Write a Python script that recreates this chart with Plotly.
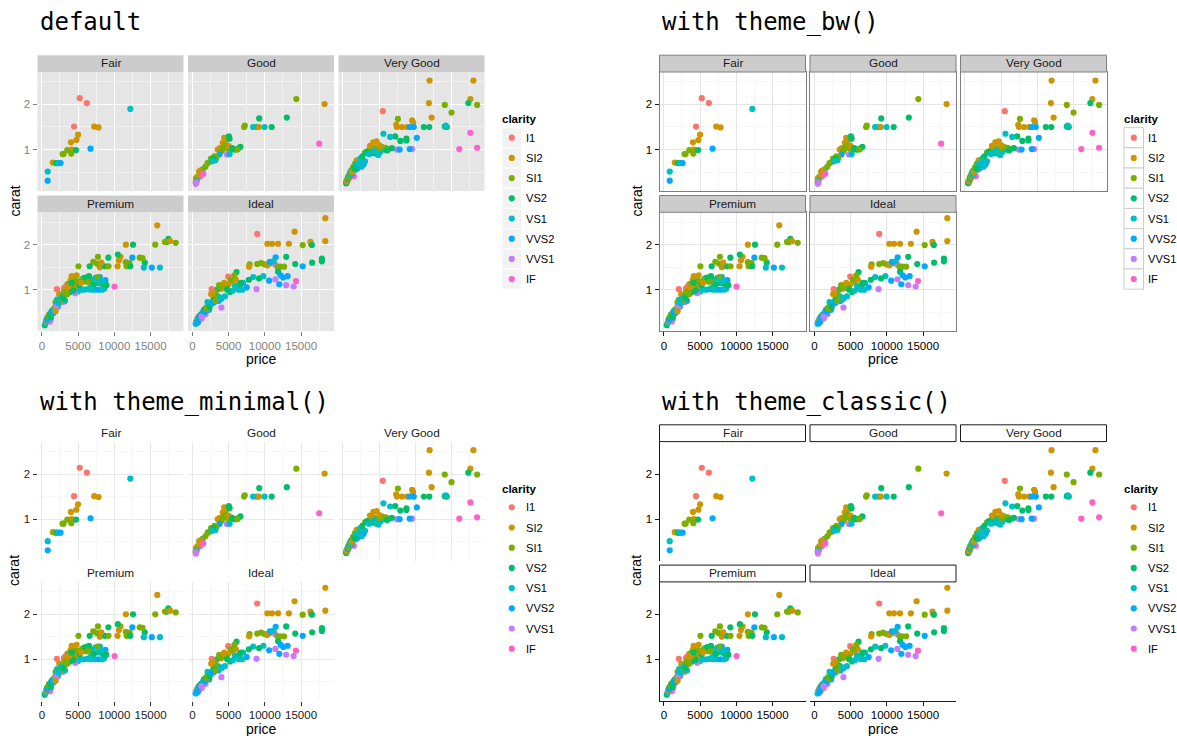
import plotly.graph_objects as go

W, H = 1177, 736

# ---------------- data ----------------
CLARITY_LEVELS = ["I1", "SI2", "SI1", "VS2", "VS1", "VVS2", "VVS1", "IF"]
CLARITY_COLORS = ["#F8766D", "#CD9600", "#7CAE00", "#00BE67", "#00BFC4", "#00A9FF", "#C77CFF", "#FF61CC"]
FACETS = ["Fair", "Good", "Very Good", "Premium", "Ideal"]

X_TICKS = [0, 5000, 10000, 15000]
X_TICK_LABELS = ["0", "5000", "10000", "15000"]
X_MINOR = [2500, 7500, 12500, 17500]
Y_TICKS = [1, 2]
Y_TICK_LABELS = ["1", "2"]
Y_MINOR = [0.5, 1.5, 2.5]

FAIR_PRICE = [5230, 6210, 4440, 7230, 7830, 5000, 4770, 4020, 4120, 3510,
              2860, 3000, 4070, 4720, 6720, 12210, 1510, 1880, 2050, 2250,
              2580, 810, 810]
FAIR_CARAT = [2.14, 2.03, 1.51, 1.51, 1.49, 1.33, 1.21, 1.16, 1.00, 0.99,
              0.90, 0.90, 0.91, 0.99, 1.02, 1.90, 0.71, 0.70, 0.70, 0.70,
              0.70, 0.51, 0.31]
FAIR_CLARITY = ["I1", "I1", "I1", "SI2", "SI2", "SI2", "SI2", "SI2", "SI2", "SI1",
                "SI1", "SI1", "SI1", "VS2", "VVS2", "VS1", "SI2", "SI1", "VS2", "VS1",
                "VVS2", "VS1", "VVS2"]

GOOD_PRICE = [14350, 18250, 9230, 13040, 7140, 7230, 8390, 8860, 9180, 9970,
              10950, 17510, 4400, 4670, 4200, 4550, 5040, 5140, 3510, 3800,
              4120, 4300, 3950, 5370, 5840, 6300, 6630, 3740, 4770, 5140,
              3050, 3300, 2580, 2250, 2100, 3190, 2900, 1420, 950, 1100,
              1510, 1050, 700, 490, 550, 600, 450, 480, 520, 4900,
              5000, 5500, 6200, 2700, 1800]
GOOD_CARAT = [2.12, 2.01, 1.69, 1.71, 1.50, 1.53, 1.50, 1.50, 1.50, 1.50,
              1.50, 1.13, 1.26, 1.21, 1.15, 1.10, 1.29, 1.24, 1.00, 1.03,
              0.99, 1.05, 0.95, 1.00, 1.00, 1.02, 1.06, 0.89, 0.89, 0.90,
              0.85, 0.82, 0.80, 0.71, 0.70, 0.76, 0.80, 0.56, 0.51, 0.53,
              0.46, 0.40, 0.40, 0.36, 0.33, 0.30, 0.28, 0.24, 0.26, 1.02,
              1.08, 1.03, 1.00, 0.74, 0.62]
GOOD_CLARITY = ["SI1", "SI2", "VS2", "VS2", "SI1", "SI1", "VS1", "VS1", "SI2", "VS1",
                "VS2", "IF", "SI2", "SI2", "SI2", "SI1", "VS2", "VS2", "SI2", "SI2",
                "SI1", "SI1", "SI1", "VS2", "VS2", "VS2", "VS2", "VVS2", "VVS1", "VS1",
                "SI1", "SI1", "SI1", "SI1", "SI1", "VS1", "VS2", "VS1", "SI1", "SI2",
                "IF", "IF", "SI2", "SI2", "SI1", "VS1", "SI2", "VVS1", "VVS1", "SI1",
                "SI2", "VS2", "SI1", "VS1", "SI1"]

VERYGOOD_PRICE = [11970, 18020, 11880, 17600, 14070, 15000, 17320, 18530, 5510, 12250,
                  14070, 14350, 14200, 11180, 11930, 7600, 7370, 7460, 8160, 8860,
                  9560, 9700, 9230, 9790, 10210, 5600, 7230, 7930, 8770, 8770,
                  6530, 17600, 16070, 18530, 7460, 9560, 7830, 9230, 6770, 6300,
                  5840, 4900, 4650, 5200, 3050, 3500, 3970, 4440, 5000, 5370,
                  3740, 4210, 4670, 5040, 3300, 4000, 3070, 2860, 2580, 1910,
                  1680, 2200, 1500, 1300, 1100, 1700, 2000, 900, 1000, 800,
                  700, 600, 500, 550, 450, 650, 1510, 1200, 2400, 2700,
                  3600, 4300, 5900, 6100, 1400, 1800, 480, 560, 720, 850,
                  1050, 1250, 1600, 2300]
VERYGOOD_CARAT = [2.53, 2.53, 2.03, 2.12, 1.99, 1.82, 2.03, 1.99, 1.85, 1.71,
                  1.51, 1.50, 1.53, 1.50, 1.50, 1.68, 1.55, 1.50, 1.50, 1.50,
                  1.65, 1.60, 1.50, 1.50, 1.26, 1.35, 1.29, 1.19, 1.24, 1.20,
                  1.28, 1.37, 1.01, 1.04, 1.00, 1.01, 1.00, 1.01, 1.03, 1.01,
                  1.00, 0.88, 0.90, 0.95, 0.93, 0.97, 0.99, 1.03, 1.02, 1.06,
                  1.08, 1.16, 1.18, 1.09, 0.95, 0.92, 0.74, 0.67, 0.62, 0.76,
                  0.69, 0.70, 0.62, 0.55, 0.52, 0.55, 0.58, 0.45, 0.48, 0.42,
                  0.38, 0.33, 0.30, 0.27, 0.25, 0.31, 0.41, 0.45, 0.80, 0.85,
                  0.90, 0.97, 1.04, 0.98, 0.60, 0.66, 0.26, 0.29, 0.34, 0.37,
                  0.44, 0.50, 0.58, 0.72]
VERYGOOD_CLARITY = ["SI2", "SI2", "SI2", "SI2", "SI1", "SI1", "VS2", "SI1", "I1", "SI2",
                    "VS2", "VS2", "VS1", "VS2", "VS2", "SI1", "SI2", "SI2", "SI2", "SI2",
                    "SI2", "SI2", "VVS2", "VVS2", "VVS2", "VS1", "VS2", "VS2", "VS2", "VS2",
                    "VS1", "IF", "IF", "IF", "VVS1", "VVS1", "VVS2", "VVS2", "VS2", "VS2",
                    "VS2", "VS1", "VS1", "VS1", "SI1", "SI1", "SI1", "SI1", "SI1", "SI1",
                    "SI2", "SI2", "SI2", "SI2", "VS2", "VS2", "VS1", "VVS2", "VS1", "SI2",
                    "SI1", "SI2", "SI2", "SI1", "VS2", "VS1", "VVS2", "SI1", "VS1", "SI2",
                    "VS2", "SI1", "VS1", "VVS1", "VVS2", "VVS1", "IF", "VVS2", "VS1", "VS2",
                    "VS1", "VS1", "SI1", "VS2", "SI1", "VS1", "VS2", "SI2", "VVS2", "SI1",
                    "VS1", "SI2", "VS2", "VS1"]

PREMIUM_PRICE = [15930, 17460, 17230, 17000, 17700, 18480, 15650, 11600, 12580, 14200,
                 13510, 13900, 14070, 15180, 16300, 12490, 10630, 10860, 10440, 10490,
                 11580, 12100, 11700, 12200, 9180, 7740, 8000, 8700, 9200, 7100,
                 7600, 8200, 6600, 5050, 10040, 8770, 8580, 8000, 7400, 6900,
                 6500, 5700, 6100, 7000, 7800, 8400, 5800, 6300, 6800, 7300,
                 7800, 8300, 5300, 5000, 4600, 2070, 3050, 3280, 3500, 4120,
                 3980, 4300, 4800, 4500, 3600, 2400, 3700, 4200, 4900, 5500,
                 3900, 4400, 5200, 3300, 2900, 2700, 2100, 1900, 2300, 2200,
                 1800, 1500, 1300, 1000, 900, 700, 600, 400, 1100, 1200,
                 2900, 3200, 1600, 800, 3400, 3800, 4600, 5400, 6000, 6700,
                 7200, 7700, 8200, 8900, 2500, 1400, 2000, 3100, 4100, 6400,
                 500, 650, 750, 950, 1150, 1350, 1700, 2000, 2600, 3000,
                 3500, 2300, 1250, 1900]
PREMIUM_CARAT = [2.43, 2.13, 2.06, 2.06, 2.08, 2.04, 2.00, 2.00, 2.00, 1.60,
                 1.71, 1.70, 1.49, 1.49, 1.49, 1.71, 1.65, 1.73, 1.52, 1.78,
                 1.61, 1.59, 1.52, 1.52, 1.71, 1.73, 1.50, 1.52, 1.52, 1.62,
                 1.58, 1.60, 1.52, 1.52, 1.07, 1.21, 1.02, 1.28, 1.26, 1.22,
                 1.30, 1.25, 1.18, 1.10, 1.15, 1.12, 1.00, 1.01, 1.00, 1.00,
                 1.00, 1.00, 1.00, 0.96, 0.92, 1.01, 1.03, 1.07, 1.12, 1.30,
                 1.21, 1.12, 1.32, 1.05, 1.00, 0.90, 1.13, 1.05, 1.18, 1.22,
                 0.95, 0.98, 1.10, 0.90, 0.85, 0.82, 0.78, 0.72, 0.72, 0.62,
                 0.60, 0.55, 0.50, 0.45, 0.40, 0.35, 0.31, 0.21, 0.29, 0.32,
                 0.72, 0.75, 0.48, 0.38, 1.02, 1.08, 1.20, 1.15, 1.27, 1.05,
                 1.12, 1.28, 1.20, 1.10, 0.75, 0.52, 0.66, 0.95, 1.15, 1.18,
                 0.25, 0.30, 0.33, 0.41, 0.43, 0.51, 0.55, 0.61, 0.73, 0.80,
                 0.90, 0.70, 0.38, 0.52]
PREMIUM_CLARITY = ["SI2", "VS2", "VS2", "SI1", "SI2", "SI1", "SI1", "SI2", "VS2", "VS2",
                   "SI1", "SI1", "VS1", "VVS2", "VS1", "VVS2", "SI2", "SI2", "SI2", "VS2",
                   "SI1", "SI1", "SI1", "VS2", "VS2", "SI1", "SI2", "VS2", "SI1", "SI1",
                   "SI1", "SI2", "VS2", "SI1", "IF", "VVS2", "VVS2", "VVS2", "VS1", "VS1",
                   "VS2", "VS2", "SI1", "VS2", "VS1", "VS2", "VS1", "VS1", "VS1", "VS1",
                   "VVS2", "VS1", "VS1", "VS1", "VVS1", "I1", "I1", "I1", "I1", "SI2",
                   "SI2", "SI2", "SI2", "SI2", "SI2", "SI2", "SI1", "SI1", "SI1", "SI1",
                   "VS2", "VS2", "VS2", "SI1", "VS2", "VS1", "VS1", "SI1", "VS2", "VVS2",
                   "SI1", "SI2", "VS1", "SI1", "VVS2", "VS2", "SI1", "VS2", "IF", "VVS1",
                   "VVS1", "VS1", "VVS2", "VS1", "SI2", "SI2", "SI1", "SI2", "VS2", "VS1",
                   "VS2", "SI1", "VS1", "VS2", "VS2", "SI1", "VS1", "SI1", "VS2", "SI1",
                   "VS1", "SI2", "VVS2", "SI1", "VS2", "VVS2", "VS1", "VVS1", "SI2", "VS2",
                   "SI1", "VS1", "VS2", "SI2"]

IDEAL_PRICE = [18350, 18350, 14110, 8950, 10350, 11000, 11830, 13320, 15230, 16300,
               16390, 16500, 17880, 17880, 16530, 14200, 15230, 12950, 7900, 8950,
               9500, 10000, 10450, 10900, 7840, 10350, 11420, 11750, 12100, 12660,
               11830, 11500, 10700, 11200, 12180, 12550, 13150, 11460, 8860, 12950,
               13980, 12000, 10600, 14300, 9800, 9200, 8400, 7800, 7000, 7500,
               6500, 6000, 6100, 5800, 5500, 5000, 4700, 4950, 4300, 4000,
               3700, 3400, 3100, 2670, 2800, 3500, 4000, 4500, 5200, 5600,
               6400, 6900, 4020, 3000, 2500, 2200, 1900, 2300, 1600, 1400,
               1200, 1800, 900, 700, 1000, 600, 500, 800, 1300, 3300,
               2900, 3800, 4400, 4800, 5300, 5900, 6700, 2100, 2600, 3600,
               450, 550, 700, 900, 1100, 1500, 1700, 2000, 2400, 2800,
               3200, 3900, 1250, 650]
IDEAL_CARAT = [2.59, 2.08, 2.29, 2.24, 2.02, 2.02, 2.02, 2.02, 1.99, 2.06,
               2.01, 1.99, 1.69, 1.63, 1.60, 1.57, 1.52, 1.73, 1.56, 1.57,
               1.59, 1.56, 1.56, 1.59, 1.51, 1.54, 1.56, 1.51, 1.51, 1.51,
               1.40, 1.72, 1.62, 1.63, 1.32, 1.27, 1.30, 1.23, 1.01, 1.10,
               1.07, 1.12, 1.20, 1.19, 1.30, 1.25, 1.28, 1.22, 1.15, 1.05,
               1.10, 1.22, 1.39, 1.32, 1.18, 1.12, 1.05, 1.29, 1.10, 1.02,
               1.10, 1.00, 0.95, 1.01, 0.92, 0.85, 0.80, 0.85, 0.95, 0.98,
               1.00, 1.00, 0.60, 0.72, 0.70, 0.65, 0.60, 0.55, 0.55, 0.48,
               0.45, 0.45, 0.40, 0.35, 0.33, 0.30, 0.27, 0.28, 0.36, 0.83,
               0.78, 1.05, 1.15, 1.00, 1.22, 1.08, 1.15, 0.72, 0.90, 0.75,
               0.24, 0.29, 0.31, 0.38, 0.42, 0.51, 0.50, 0.57, 0.62, 0.70,
               0.75, 0.82, 0.40, 0.26]
IDEAL_CLARITY = ["SI2", "SI2", "SI2", "I1", "SI2", "SI2", "SI2", "SI2", "SI1", "SI2",
                 "SI2", "VS2", "VS2", "VS2", "VS2", "VS2", "VVS2", "VS2", "SI1", "SI1",
                 "SI1", "SI1", "SI1", "SI1", "SI2", "SI2", "VVS1", "SI1", "SI1", "SI1",
                 "VS2", "VVS2", "VVS2", "VS1", "VVS2", "VVS2", "VVS2", "VVS1", "VVS1", "VVS1",
                 "VVS1", "VVS2", "VVS2", "IF", "VS1", "VS2", "VS1", "VS2", "VS1", "VVS2",
                 "VS2", "SI2", "VS2", "SI1", "SI2", "SI2", "SI1", "I1", "SI1", "SI2",
                 "SI1", "VS2", "SI1", "I1", "SI2", "VS2", "VVS2", "VS1", "VS2", "VS1",
                 "VS1", "VS1", "VVS1", "VVS2", "VS2", "VS1", "SI1", "VVS2", "VS2", "SI2",
                 "VS1", "VVS1", "SI1", "SI2", "VVS1", "VS2", "VS1", "VVS2", "VVS1", "SI1",
                 "VS2", "SI1", "SI2", "VS2", "SI1", "VS1", "VS2", "VS1", "SI2", "VVS2",
                 "VS1", "VVS1", "SI1", "VVS2", "VS2", "VS1", "VVS2", "SI1", "VS2", "VVS2",
                 "SI1", "VS1", "VVS1", "VVS2"]

FACET_DATA = [
    (FAIR_PRICE, FAIR_CARAT, FAIR_CLARITY),
    (GOOD_PRICE, GOOD_CARAT, GOOD_CLARITY),
    (VERYGOOD_PRICE, VERYGOOD_CARAT, VERYGOOD_CLARITY),
    (PREMIUM_PRICE, PREMIUM_CARAT, PREMIUM_CLARITY),
    (IDEAL_PRICE, IDEAL_CARAT, IDEAL_CLARITY),
]
for p, c, k in FACET_DATA:
    assert len(p) == len(c) == len(k)

# ---------------- layout / styles ----------------
COLOR_OF = dict(zip(CLARITY_LEVELS, CLARITY_COLORS))
X_RANGE = [-600, 19550]
Y_RANGE = [0.08, 2.72]

COLS = [(37.5, 183.5), (188.0, 334.0), (338.5, 484.5)]
ROWS = [(72.0, 191.0), (212.3, 331.0)]
FACET_CELL = [(0, 0), (0, 1), (0, 2), (1, 0), (1, 1)]
Q_SHIFT = [(0, 0), (622, 0), (0, 369.6), (622, 369.6)]
STRIP_H = 16.8
MARKER = 6.2

SANS = "Liberation Sans, Arial, Helvetica, sans-serif"
MONO = "DejaVu Sans Mono, monospace"

THEMES = [
    dict(title="default", panel="#E5E5E5", grid="#FFFFFF", grid_w=1.1, minor="#F2F2F2", minor_w=0.55,
         border=None, strip_fill="#CCCCCC", strip_line=None, tick="#7F7F7F", ticktext="#7F7F7F",
         axisline=None, key_fill="#F2F2F2", key_line="#FFFFFF", title_y=22),
    dict(title="with theme_bw()", panel="#FFFFFF", grid="#E5E5E5", grid_w=0.8, minor="#F7F7F7", minor_w=0.55,
         border="#7F7F7F", strip_fill="#CCCCCC", strip_line="#7F7F7F", tick="#1A1A1A", ticktext="#000000",
         axisline=None, key_fill="#FFFFFF", key_line="#CCCCCC", title_y=22),
    dict(title="with theme_minimal()", panel=None, grid="#E8E8E8", grid_w=0.8, minor="#F7F7F7", minor_w=0.55,
         border=None, strip_fill=None, strip_line=None, tick="#333333", ticktext="#1A1A1A",
         axisline=None, key_fill=None, key_line=None, title_y=402),
    dict(title="with theme_classic()", panel=None, grid=None, grid_w=0, minor=None, minor_w=0,
         border=None, strip_fill="#FFFFFF", strip_line="#1A1A1A", tick="#1A1A1A", ticktext="#000000",
         axisline="#1A1A1A", key_fill=None, key_line=None, title_y=402),
]

fig = go.Figure()
layout = {}
shapes = []
annotations = []

def fx(px):
    return px / W

def fy(py):
    return 1 - py / H

n = 0
for qi, th in enumerate(THEMES):
    dx, dy = Q_SHIFT[qi]
    for fi, facet in enumerate(FACETS):
        n += 1
        r, c = FACET_CELL[fi]
        left, right = COLS[c][0] + dx, COLS[c][1] + dx
        top, bottom = ROWS[r][0] + dy, ROWS[r][1] + dy
        xname = "x" if n == 1 else f"x{n}"
        yname = "y" if n == 1 else f"y{n}"
        xkey = "xaxis" if n == 1 else f"xaxis{n}"
        ykey = "yaxis" if n == 1 else f"yaxis{n}"
        is_bottom = facet in ("Premium", "Ideal")
        is_left = c == 0

        prices, carats, clar = FACET_DATA[fi]
        fig.add_trace(go.Scatter(
            x=prices, y=carats, mode="markers", xaxis=xname, yaxis=yname,
            marker=dict(color=[COLOR_OF[k] for k in clar], size=MARKER, line=dict(width=0)),
            showlegend=False, hoverinfo="skip"))

        show_grid = th["grid"] is not None
        xline = th["border"] is not None or (th["axisline"] is not None and is_bottom)
        yline = th["border"] is not None or (th["axisline"] is not None and is_left)
        lcol = th["border"] or th["axisline"] or "#000000"

        layout[xkey] = dict(
            domain=[fx(left), fx(right)], anchor=yname, range=X_RANGE,
            tickmode="array", tickvals=X_TICKS, ticktext=X_TICK_LABELS,
            showticklabels=is_bottom, ticks="outside" if is_bottom else "",
            ticklen=4, tickwidth=1, tickcolor=th["tick"],
            tickfont=dict(family=SANS, size=11.5, color=th["ticktext"]),
            showgrid=show_grid, gridcolor=th["grid"] or "#FFFFFF", gridwidth=th["grid_w"] or 1,
            minor=dict(tickvals=X_MINOR, showgrid=show_grid, gridcolor=th["minor"] or "#FFFFFF",
                       gridwidth=th["minor_w"] or 1, ticks=""),
            zeroline=False, showline=xline, linecolor=lcol, linewidth=1,
            mirror=True if th["border"] else False, fixedrange=True)
        layout[ykey] = dict(
            domain=[fy(bottom), fy(top)], anchor=xname, range=Y_RANGE,
            tickmode="array", tickvals=Y_TICKS, ticktext=Y_TICK_LABELS,
            showticklabels=is_left, ticks="outside" if is_left else "",
            ticklen=4, tickwidth=1, tickcolor=th["tick"],
            tickfont=dict(family=SANS, size=11.5, color=th["ticktext"]),
            showgrid=show_grid, gridcolor=th["grid"] or "#FFFFFF", gridwidth=th["grid_w"] or 1,
            minor=dict(tickvals=Y_MINOR, showgrid=show_grid, gridcolor=th["minor"] or "#FFFFFF",
                       gridwidth=th["minor_w"] or 1, ticks=""),
            zeroline=False, showline=yline, linecolor=lcol, linewidth=1,
            mirror=True if th["border"] else False, fixedrange=True)

        if th["panel"]:
            shapes.append(dict(type="rect", xref="paper", yref="paper", layer="below",
                               x0=fx(left), x1=fx(right), y0=fy(bottom), y1=fy(top),
                               fillcolor=th["panel"], line=dict(width=0)))
        if th["strip_fill"]:
            shapes.append(dict(type="rect", xref="paper", yref="paper", layer="above",
                               x0=fx(left), x1=fx(right), y0=fy(top), y1=fy(top - STRIP_H),
                               fillcolor=th["strip_fill"],
                               line=dict(width=1 if th["strip_line"] else 0,
                                         color=th["strip_line"] or th["strip_fill"])))
        annotations.append(dict(text=facet, xref="paper", yref="paper", showarrow=False,
                                x=fx((left + right) / 2), y=fy(top - STRIP_H / 2 - 0.3),
                                xanchor="center", yanchor="middle",
                                font=dict(family=SANS, size=11.8, color="#1A1A1A")))

    # quadrant title
    annotations.append(dict(text=th["title"], xref="paper", yref="paper", showarrow=False,
                            x=fx(38 + dx), y=fy(th["title_y"]), xanchor="left", yanchor="middle",
                            font=dict(family=MONO, size=24, color="#000000")))
    # axis titles
    annotations.append(dict(text="price", xref="paper", yref="paper", showarrow=False,
                            x=fx(261 + dx), y=fy(359 + dy), xanchor="center", yanchor="middle",
                            font=dict(family=SANS, size=14, color="#000000")))
    annotations.append(dict(text="carat", xref="paper", yref="paper", showarrow=False,
                            x=fx(14 + dx), y=fy(201.5 + dy), xanchor="center", yanchor="middle",
                            textangle=-90, font=dict(family=SANS, size=14, color="#000000")))
    # legend
    annotations.append(dict(text="<b>clarity</b>", xref="paper", yref="paper", showarrow=False,
                            x=fx(500 + dx), y=fy(119 + dy), xanchor="left", yanchor="middle",
                            font=dict(family=SANS, size=11.5, color="#000000")))
    key_left, key_w, key_top, key_h = 502 + dx, 19.5, 127.6 + dy, 20.2
    kx, ky, kc = [], [], []
    for li, lev in enumerate(CLARITY_LEVELS):
        t = key_top + li * key_h
        if th["key_fill"]:
            shapes.append(dict(type="rect", xref="paper", yref="paper", layer="below",
                               x0=fx(key_left), x1=fx(key_left + key_w), y0=fy(t + key_h), y1=fy(t),
                               fillcolor=th["key_fill"], line=dict(width=1, color=th["key_line"])))
        kx.append(key_left + key_w / 2)
        ky.append(t + key_h / 2)
        kc.append(COLOR_OF[lev])
        annotations.append(dict(text=lev, xref="paper", yref="paper", showarrow=False,
                                x=fx(key_left + key_w + 2.5), y=fy(t + key_h / 2), xanchor="left",
                                yanchor="middle", font=dict(family=SANS, size=11.1, color="#000000")))
    fig.add_trace(go.Scatter(x=kx, y=ky, mode="markers", xaxis="x21", yaxis="y21",
                             marker=dict(color=kc, size=MARKER, line=dict(width=0)),
                             showlegend=False, hoverinfo="skip", cliponaxis=False))

layout["xaxis21"] = dict(domain=[0, 1], range=[0, W], visible=False, fixedrange=True, anchor="y21")
layout["yaxis21"] = dict(domain=[0, 1], range=[H, 0], visible=False, fixedrange=True, anchor="x21")

fig.update_layout(
    width=W, height=H, margin=dict(l=0, r=0, t=0, b=0),
    paper_bgcolor="#FFFFFF", plot_bgcolor="rgba(0,0,0,0)",
    showlegend=False, shapes=shapes, annotations=annotations,
    **layout)

fig.write_html("out.html", config={"displayModeBar": False},
               post_script="document.body.style.margin='0px';document.body.style.overflow='hidden';")
